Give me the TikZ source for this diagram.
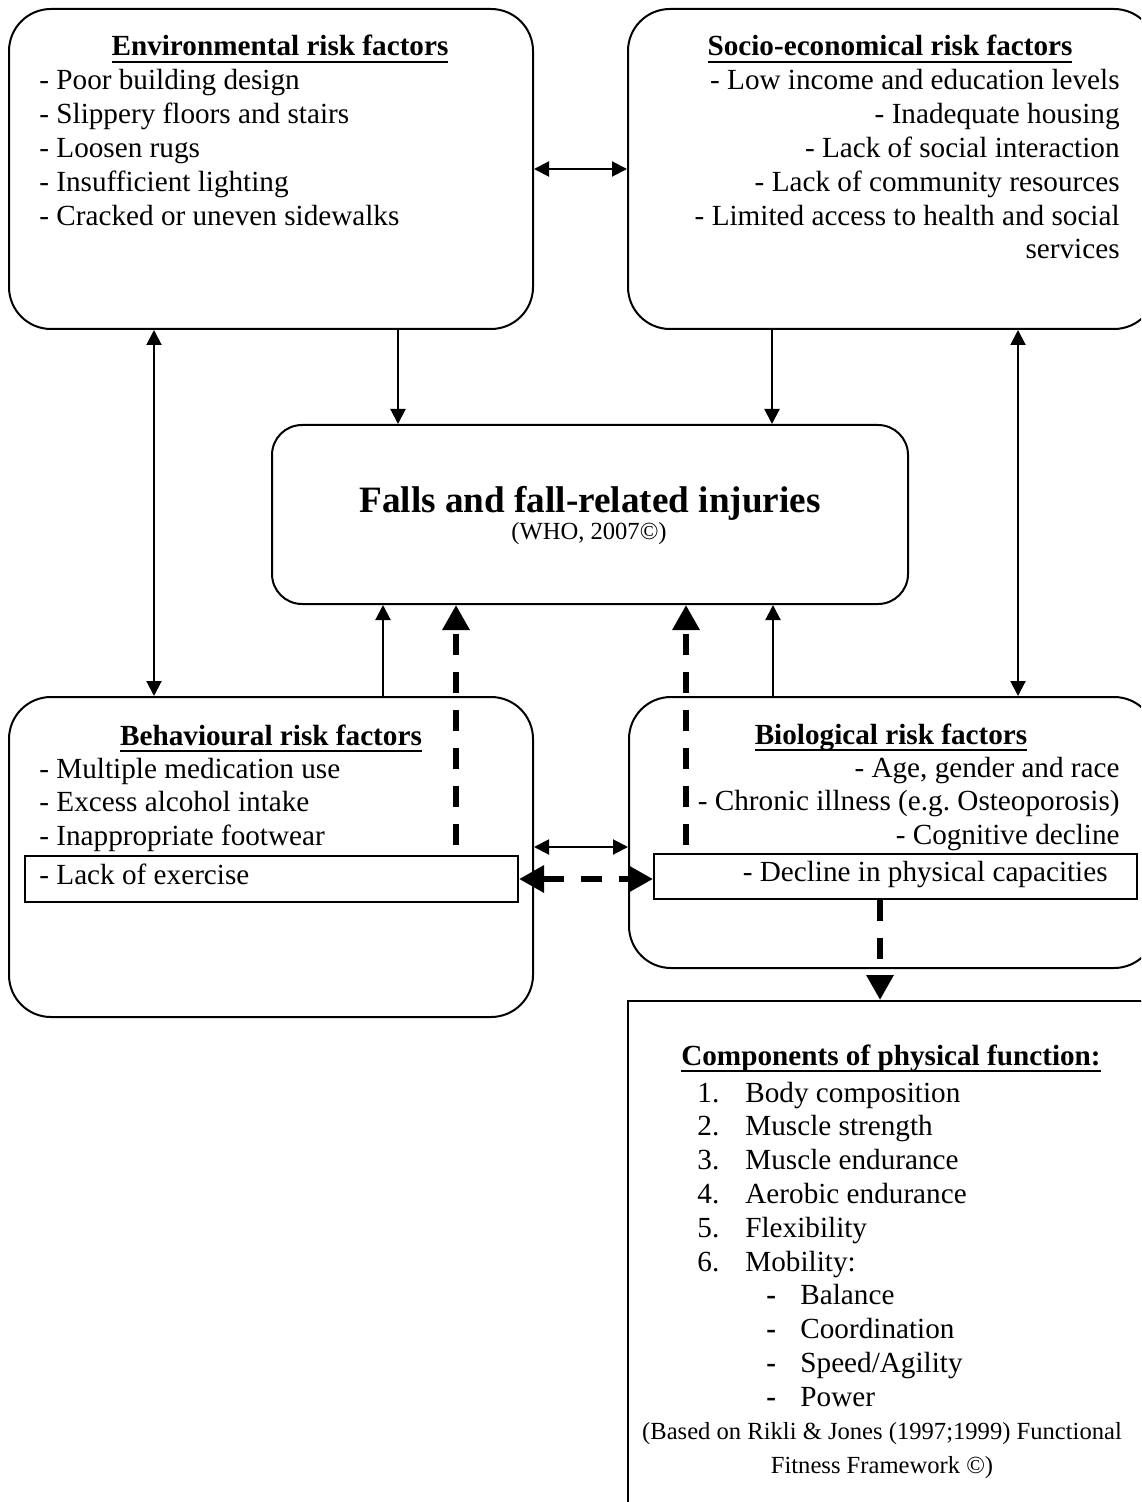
\documentclass[tikz,border=0pt]{standalone}
\usepackage{fontspec}
\setmainfont{Liberation Serif}
\usetikzlibrary{arrows.meta}
\newcommand\bodyfont{\fontsize{14.6pt}{16.9pt}\selectfont}
\newcommand\smallfont{\fontsize{12.3pt}{17pt}\selectfont}
\newcommand\hd[1]{\setbox0\hbox{\textbf{#1}}\rlap{\rule[-3.4pt]{\wd0}{1pt}}\box0}
\newcommand\lns[2]{\begin{tabular}[t]{@{}#1@{}}#2\end{tabular}}
\newcommand\itm[1]{\makebox[24pt][l]{#1}}
\newcommand\sub{\hspace*{34.5pt}\makebox[17pt][l]{\textbf{-}}}
\begin{document}
\begin{tikzpicture}[x=0.5pt,y=-0.5pt,
  rbox/.style={draw,line width=1pt,rounded corners=21pt,anchor=north west,inner sep=0},
  sbox/.style={draw,line width=1pt,anchor=north west,inner sep=0},
  txt/.style={inner sep=0,font=\bodyfont},
  thinboth/.style={line width=1pt,{Triangle[length=7.5pt,width=7.5pt]}-{Triangle[length=7.5pt,width=7.5pt]}},
  thinone/.style={line width=1pt,-{Triangle[length=7.5pt,width=7.5pt]}},
  thickdash/.style={line width=3pt,dash pattern=on 10.5pt off 8.5pt,-{Triangle[length=12.5pt,width=13pt]}},
  thickdashboth/.style={line width=3pt,dash pattern=on 10.5pt off 8.5pt,{Triangle[length=12.5pt,width=13pt]}-{Triangle[length=12.5pt,width=13pt]}}
]
\useasboundingbox (0,0) rectangle (1141,1502);
\clip (0,0) rectangle (1141,1502);

% boxes
\node[rbox,minimum width=262pt,minimum height=160pt] (env) at (8,8) {};
\node[rbox,minimum width=264pt,minimum height=160pt] (socio) at (627,8) {};
\node[rbox,rounded corners=15pt,minimum width=318pt,minimum height=89.5pt] (falls) at (271,424) {};
\node[rbox,minimum width=262pt,minimum height=160pt] (behav) at (8,696) {};
\node[rbox,minimum width=263.5pt,minimum height=135.5pt] (bio) at (628,696) {};
\node[sbox,minimum width=246.5pt,minimum height=23pt] (lackex) at (24,855) {};
\node[sbox,minimum width=241.5pt,minimum height=22.5pt] (decline) at (653,853) {};
\node[sbox,minimum width=264pt,minimum height=280pt] (comp) at (627,1000) {};

% environmental
\node[txt,anchor=base] (envh) at (280,56) {\hd{Environmental risk factors}};
\node[txt,anchor=base west] (envt) at (39,90)
  {\lns{l}{- Poor building design\\- Slippery floors and stairs\\- Loosen rugs\\- Insufficient lighting\\- Cracked or uneven sidewalks}};

% socio-economical
\node[txt,anchor=base] (socioh) at (890,56) {\hd{Socio-economical risk factors}};
\node[txt,anchor=base east] (sociot) at (1120,90)
  {\lns{r}{- Low income and education levels\\- Inadequate housing\\- Lack of social interaction\\- Lack of community resources\\- Limited access to health and social\\services}};

% falls
\node[inner sep=0,anchor=base,font=\fontsize{18.6pt}{22pt}\selectfont\bfseries] (title) at (590,512) {Falls and fall-related injuries};
\node[inner sep=0,anchor=base,font=\smallfont] (who) at (589,539) {(WHO, 2007©)};

% behavioural
\node[txt,anchor=base] (behavh) at (271,745) {\hd{Behavioural risk factors}};
\node[txt,anchor=base west] (behavt) at (39,778)
  {\lns{l}{- Multiple medication use\\- Excess alcohol intake\\- Inappropriate footwear}};
\node[txt,anchor=base west] (lackt) at (39,884) {- Lack of exercise};

% biological
\node[txt,anchor=base] (bioh) at (891,744) {\hd{Biological risk factors}};
\node[txt,anchor=base east] (biot) at (1120,777)
  {\lns{r}{- Age, gender and race\\- Chronic illness (e.g.\ Osteoporosis)\\- Cognitive decline}};
\node[txt,anchor=base east] (declt) at (1108,881) {- Decline in physical capacities};

% components
\node[txt,anchor=base] (comph) at (891,1065) {\hd{Components of physical function:}};
\node[txt,anchor=base west] (compt) at (697,1102)
  {\lns{l}{\itm{1.}Body composition\\
   \itm{2.}Muscle strength\\
   \itm{3.}Muscle endurance\\
   \itm{4.}Aerobic endurance\\
   \itm{5.}Flexibility\\
   \itm{6.}Mobility:\\
   \sub Balance\\
   \sub Coordination\\
   \sub Speed/Agility\\
   \sub Power}};
\node[inner sep=0,anchor=base,font=\smallfont] (based) at (882,1439)
  {\lns{c}{(Based on Rikli \& Jones (1997;1999) Functional\\Fitness Framework ©)}};

% thin connectors
\draw[thinboth] (env.east) -- (socio.west);
\draw[thinboth] (env.south -| 154,0) -- (behav.north -| 154,0);
\draw[thinboth] (socio.south -| 1018,0) -- (bio.north -| 1018,0);
\draw[thinone] (env.south -| 398,0) -- (falls.north -| 398,0);
\draw[thinone] (socio.south -| 772,0) -- (falls.north -| 772,0);
\draw[thinone] (behav.north -| 383,0) -- (falls.south -| 383,0);
\draw[thinone] (bio.north -| 773,0) -- (falls.south -| 773,0);
\draw[thinboth] (behav.east |- 0,847) -- (bio.west |- 0,847);

% thick dashed connectors
\coordinate (d1) at (456,845);
\coordinate (d2) at (686,845);
\draw[thickdash] (d1) -- (falls.south -| d1);
\draw[thickdash] (d2) -- (falls.south -| d2);
\draw[thickdashboth] (lackex.east |- 0,879) -- (decline.west |- 0,879);
\draw[thickdash] (decline.south -| 880,0) -- (comp.north -| 880,0);
\end{tikzpicture}
\end{document}
